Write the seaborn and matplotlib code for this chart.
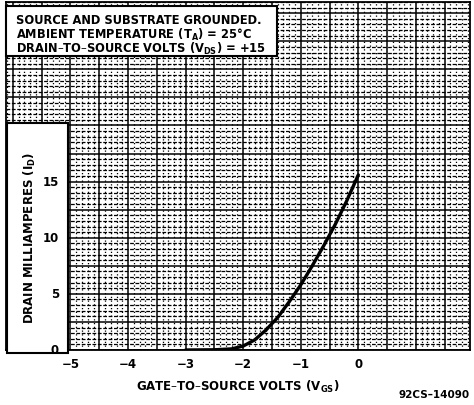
import numpy as np
import pandas as pd
import matplotlib
matplotlib.use("Agg")
import matplotlib.pyplot as plt
import seaborn as sns
from matplotlib.patches import Rectangle
from matplotlib.ticker import FixedLocator, MultipleLocator

# ---- data ----
vgs = [-3.0, -2.5, -2.2, -2.0, -1.8, -1.6, -1.4, -1.2, -1.0, -0.8, -0.6, -0.4, -0.2, 0.0]
id_ma = [0.0, 0.02, 0.1, 0.35, 0.9, 1.8, 2.9, 4.3, 5.8, 7.5, 9.3, 11.2, 13.3, 15.6]
x_tick_vals = [-5, -4, -3, -2, -1, 0]
x_tick_labels = ["\u22125", "\u22124", "\u22123", "\u22122", "\u22121", "0"]
y_tick_vals = [0, 5, 10, 15]
y_tick_labels = ["0", "5", "10", "15"]
note_lines = ["SOURCE AND SUBSTRATE GROUNDED.",
              "AMBIENT TEMPERATURE (T$_{\\mathregular{A}}$) = 25\u00b0C",
              "DRAIN\u2013TO\u2013SOURCE VOLTS (V$_{\\mathregular{DS}}$) = +15"]
x_label = "GATE\u2013TO\u2013SOURCE VOLTS (V$_{\\mathregular{GS}}$)"
y_label = "DRAIN MILLIAMPERES (I$_{\\mathregular{D}}$)"
fig_code = "92CS\u201314090"

df = pd.DataFrame({"vgs": vgs, "id": id_ma})

sns.set_style("white")
plt.rcParams["font.family"] = ["DejaVu Sans"]
plt.rcParams["mathtext.default"] = "regular"
plt.rcParams["text.color"] = "black"
plt.rcParams["axes.labelcolor"] = "black"
plt.rcParams["xtick.color"] = "black"
plt.rcParams["ytick.color"] = "black"

W, H = 474, 406
fig = plt.figure(figsize=(W / 100, H / 100), dpi=100)

def fx(px):
    return px / W

def fy(py):
    return 1 - py / H

ax_l, ax_r, ax_t, ax_b = 6, 470, 3, 351
ax = fig.add_axes([fx(ax_l), fy(ax_b), fx(ax_r - ax_l), (ax_b - ax_t) / H])
ax.set_xlim(-6.12, 1.94)
ax.set_ylim(0, 31.0)

# grid
major_x = list(np.arange(-6.0, 2.01, 0.5))
ax.xaxis.set_major_locator(FixedLocator(major_x))
ax.xaxis.set_minor_locator(MultipleLocator(0.1))
ax.yaxis.set_major_locator(MultipleLocator(2.5))
ax.yaxis.set_minor_locator(MultipleLocator(0.5))
ax.grid(which="major", axis="both", color="black", linewidth=1.1)
ax.grid(which="minor", axis="x", color="black", linewidth=0.9, linestyle=(0, (1, 2.0)))
ax.grid(which="minor", axis="y", color="black", linewidth=0.9, linestyle=(0, (3, 1.3)))
ax.set_axisbelow(True)

lab = {v: l for v, l in zip(x_tick_vals, x_tick_labels)}
ax.set_xticklabels([lab[int(v)] if float(v).is_integer() and int(v) in lab else "" for v in major_x])
ax.tick_params(axis="x", which="both", length=0, pad=5, labelsize=8.5)
for t in ax.get_xticklabels():
    t.set_fontweight("bold")
ax.tick_params(axis="y", which="both", length=0, labelleft=False)

for s in ax.spines.values():
    s.set_visible(True)
    s.set_color("black")
    s.set_linewidth(1.3)

# curve
sns.lineplot(data=df, x="vgs", y="id", ax=ax, color="black", linewidth=2.4, zorder=4)
ax.set_xlabel(x_label, fontsize=8.5, fontweight="bold", labelpad=6)
ax.set_ylabel("")

# white boxes
box1 = Rectangle((fx(6), fy(57)), fx(277 - 6), (57 - 7) / H, transform=fig.transFigure,
                 facecolor="white", edgecolor="black", linewidth=1.5, zorder=3, clip_on=False)
ax.add_patch(box1)
box2 = Rectangle((fx(7), fy(354)), fx(68 - 7), (354 - 124) / H, transform=fig.transFigure,
                 facecolor="white", edgecolor="black", linewidth=1.5, zorder=3, clip_on=False)
ax.add_patch(box2)

for i, line in enumerate(note_lines):
    ax.text(fx(16), fy(20 + 14.5 * i), line, transform=fig.transFigure, fontsize=8.3,
            fontweight="bold", ha="left", va="center", zorder=6)

ax.text(fx(30), fy(238), y_label, transform=fig.transFigure, rotation=90, fontsize=8.5,
        fontweight="bold", ha="center", va="center", zorder=6)
for v, l in zip(y_tick_vals, y_tick_labels):
    ax.text(-5.2, v, l, fontsize=8.5, fontweight="bold", ha="right", va="center", zorder=6)

fig.text(fx(470), fy(395), fig_code, fontsize=7.5, fontweight="bold", ha="right", va="center")

fig.savefig("out.png", dpi=100)
